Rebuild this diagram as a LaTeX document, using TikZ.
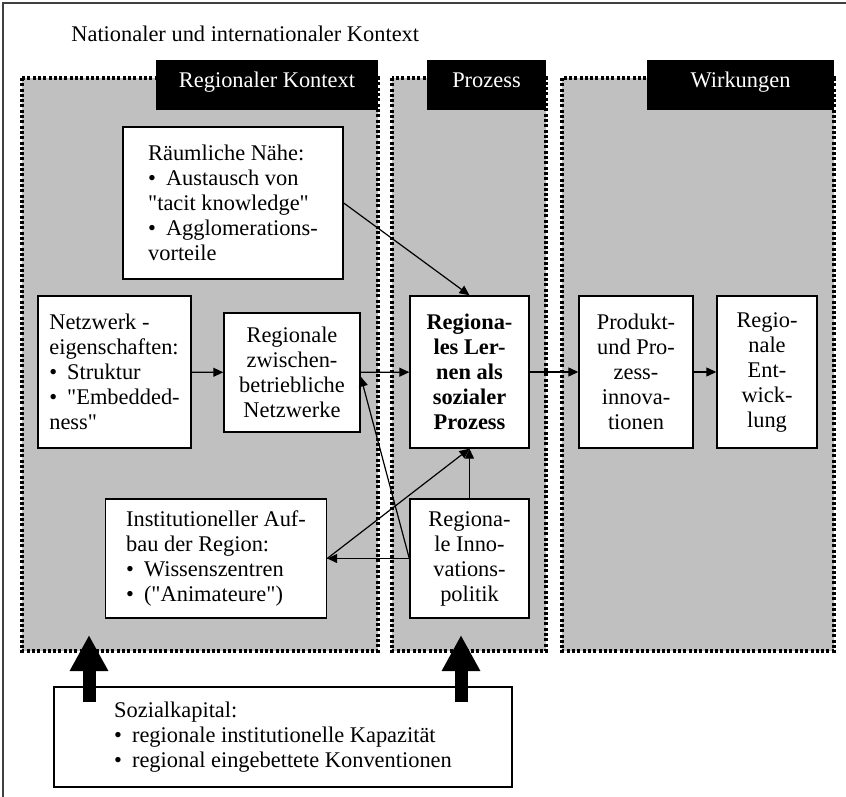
\documentclass[tikz,border=0pt]{standalone}
\usepackage{fontspec}
\setmainfont{Liberation Serif}
\usetikzlibrary{arrows.meta}
\definecolor{regiongray}{HTML}{C0C0C0}
\newcommand{\bul}{\textbullet\hspace{0.45em}}
\newcommand{\qq}{\textquotedbl}

\begin{document}
\begin{tikzpicture}[x=0.5pt,y=-0.5pt,>={Triangle[length=5pt,width=4.5pt]},
  font=\fontsize{11.2pt}{12.5pt}\selectfont,
  region/.style={fill=regiongray,draw=black,line width=1.65pt,dash pattern=on 1.5pt off 1.15pt},
  tab/.style={fill=black,text=white,minimum height=25pt,inner sep=0pt,text height=5.5pt,text depth=3pt},
  box/.style={draw,line width=0.7pt,fill=white,inner sep=0pt,minimum height=76pt},
  arr/.style={->,line width=0.6pt},
  fat/.style={line width=6.5pt,-{Triangle[length=18pt,width=18pt]}}]
\def\top{78}
\def\bot{651}

\useasboundingbox (0,0) rectangle (846,797);
\draw[black!75,line width=1pt] (3,797) -- (3,3) -- (846,3);
\node[anchor=base west,inner sep=0pt] (title) at (71,42) {Nationaler und internationaler Kontext};

% Kontext, Prozess, Wirkungen
\filldraw[region] (22,\top) rectangle (378,\bot);
\filldraw[region] (392,\top) rectangle (546,\bot);
\filldraw[region] (562,\top) rectangle (834,\bot);
\node[tab,minimum width=111pt] (rktab) at (267,85) {Regionaler Kontext};
\node[tab,minimum width=59.5pt] (pztab) at (486.5,85) {Prozess};
\node[tab,minimum width=93.5pt] (wktab) at (740.5,85) {Wirkungen};

\node[box,align=left,minimum width=110pt] (rn) at (233,203)
  {Räumliche Nähe:\\\bul Austausch von\\\qq tacit knowledge\qq\\\bul Agglomerations-\\vorteile};
\node[box,align=left,minimum width=76.5pt] (ne) at (114.5,372)
  {Netzwerk -\\eigenschaften:\\\bul Struktur\\\bul \qq Embedded-\\ness\qq};
\node[box,align=center,minimum width=68pt,minimum height=59.5pt] (zn) at (292,372.5)
  {Regionale\\zwischen-\\betriebliche\\Netzwerke};
\node[box,align=center,minimum width=59.5pt,font=\fontsize{11.2pt}{12.5pt}\selectfont\bfseries] (rl) at (469.5,372)
  {Regiona-\\les Ler-\\nen als\\sozialer\\Prozess};
\node[box,align=center,minimum width=57pt] (pp) at (636,372)
  {Produkt-\\und Pro-\\zess-\\innova-\\tionen};
\node[box,align=center,minimum width=50pt] (re) at (767,372)
  {Regio-\\nale\\Ent-\\wick-\\lung};
\node[box,align=left,minimum width=110.5pt,minimum height=59.5pt] (ia) at (216,558.5)
  {Institutioneller Auf-\\bau der Region:\\\bul Wissenszentren\\\bul (\qq Animateure\qq)};
\node[box,align=center,minimum width=59.5pt,minimum height=59.5pt] (ip) at (469.5,558.5)
  {Regiona-\\le Inno-\\vations-\\politik};
\node[box,align=left,minimum width=229pt,minimum height=50pt] (sk) at (283,737)
  {Sozialkapital:\\\bul regionale institutionelle Kapazität\\\bul regional eingebettete Konventionen};

\draw[arr] (rn.east) -- (rl.north);
\draw[arr] (ne) -- (zn);
\draw[arr] (zn) -- (rl);
\draw[arr] (rl) -- (pp);
\draw[arr] (pp) -- (re);
\draw[arr] (ip) -- (rl);
\draw[arr] (ip.west) -- (ia.east);
\draw[arr] (ia.east) -- (rl.south);
\draw[arr] (ip.west) -- ([yshift=-2pt]zn.east);

% Sozialkapital wirkt auf Kontext und Prozess
\coordinate (skl) at (89,702);
\coordinate (skr) at (461,702);
\coordinate (rkin) at (89,635);
\coordinate (pzin) at (461,635);
\draw[fat] (skl) -- (rkin);
\draw[fat] (skr) -- (pzin);
\end{tikzpicture}
\end{document}
